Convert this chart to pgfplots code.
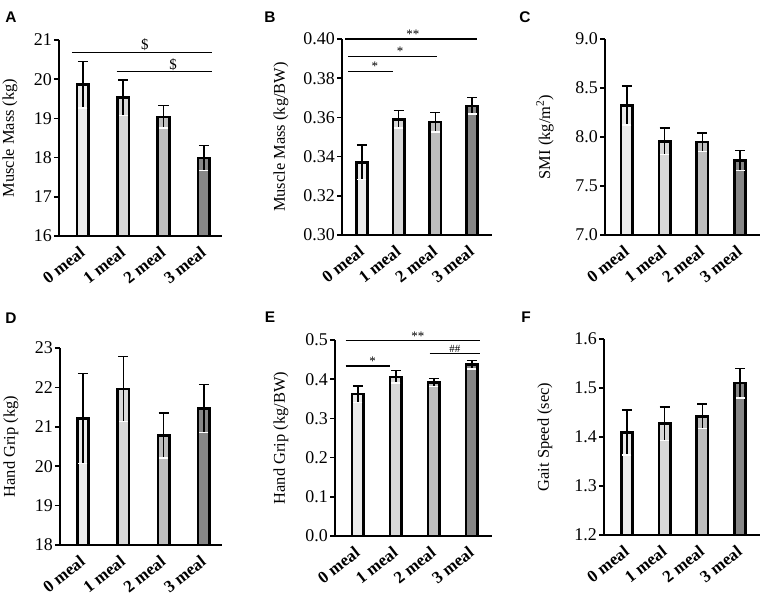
\documentclass[border=0pt]{standalone}
\usepackage{fontspec}
\setmainfont{Liberation Serif}
\newfontfamily\sansf{Liberation Sans}
\usepackage{pgfplots}
\pgfplotsset{compat=1.18}
\definecolor{c0}{HTML}{EBEBEB}
\definecolor{c1}{HTML}{D8D8D8}
\definecolor{c2}{HTML}{BEBEBE}
\definecolor{c3}{HTML}{868686}
\pgfplotsset{
  panel/.style={scale only axis, anchor=south west,
    axis x line=bottom, axis y line=left,
    axis line style={-, line width=2.2bp, black},
    xtick={0,1,2,3}, xticklabels={0 meal,1 meal,2 meal,3 meal},
    xtick style={draw=none},
    ytick style={line width=1.6bp, black},
    tick align=outside, major tick length=5bp,
    xticklabel style={font=\bfseries\fontsize{17}{17}\selectfont, rotate=38, anchor=north east, inner sep=1bp, xshift=-5bp, yshift=0bp},
    yticklabel style={font=\fontsize{18}{18}\selectfont, inner sep=2bp},
    /pgf/number format/assume math mode=true,
    clip=false,
    ylabel style={font=\fontsize{16.5}{16.5}\selectfont, anchor=center}},
  ylab/.style={ylabel style={at={([xshift=-#1]axis description cs:0,0.5)}}},
  bb/.style={ybar, bar width=11.5bp, bar shift=0pt, draw=black, line width=2.6bp, fill=#1,
    error bars/.cd, y dir=plus, y explicit,
    error bar style={line width=1.5bp, black},
    error mark options={line width=1.5bp, black, mark size=5bp, rotate=90}},
  lo/.style={draw=none, mark=none, forget plot,
    error bars/.cd, y dir=minus, y explicit,
    error bar style={line width=1.5bp, draw=black},
    error mark options={line width=1.5bp, draw=white, mark size=4.5bp, rotate=90}},
}
\tikzset{sig/.style={line width=1.3bp, black}}
\newcommand{\st}{\fontsize{13}{13}\selectfont}
\begin{document}
\begin{tikzpicture}
\path[use as bounding box] (0,0) rectangle (765bp,-603bp);
\tikzset{plab/.style={font=\sansf\bfseries\fontsize{15.5}{15.5}\selectfont}}
\node[plab] at (11bp,-17bp) {A};
\node[plab] at (270bp,-17bp) {B};
\node[plab] at (525bp,-17bp) {C};
\node[plab] at (11bp,-318bp) {D};
\node[plab] at (270bp,-317bp) {E};
\node[plab] at (526bp,-317bp) {F};

% ---------- A ----------
\begin{axis}[panel, at={(59bp,-236bp)}, width=163bp, height=196bp,
  xmin=-0.59, xmax=3.45, ymin=16, ymax=21, ytick={16,17,18,19,20,21},
  ylabel={Muscle Mass (kg)}, ylab=49bp]
\addplot[bb=c0] coordinates {(0,19.86) +- (0,0.59)};
\addplot[bb=c1] coordinates {(1,19.53) +- (0,0.45)};
\addplot[bb=c2] coordinates {(2,19.04) +- (0,0.29)};
\addplot[bb=c3] coordinates {(3,17.99) +- (0,0.32)};
\addplot[lo] coordinates {(0,19.86) +- (0,0.59) (1,19.53) +- (0,0.45) (2,19.04) +- (0,0.29) (3,17.99) +- (0,0.32)};
\draw[sig] (-0.27,20.69) -- (3.21,20.69);
\node[anchor=south, inner sep=1bp, font=\fontsize{15}{15}\selectfont] at (1.54,20.69) {\$};
\draw[sig] (0.84,20.19) -- (3.21,20.19);
\node[anchor=south, inner sep=1bp, font=\fontsize{15}{15}\selectfont] at (2.24,20.19) {\$};
\end{axis}

% ---------- B ----------
\begin{axis}[panel, at={(342bp,-235bp)}, width=150bp, height=196bp,
  xmin=-0.545, xmax=3.545, ymin=0.30, ymax=0.40, ytick={0.30,0.32,0.34,0.36,0.38,0.40},
  yticklabel style={/pgf/number format/.cd, fixed, fixed zerofill, precision=2},
  ylabel={Muscle Mass (kg/BW)}, ylab=61bp]
\addplot[bb=c0] coordinates {(0,0.337) +- (0,0.0088)};
\addplot[bb=c1] coordinates {(1,0.3590) +- (0,0.0045)};
\addplot[bb=c2] coordinates {(2,0.3576) +- (0,0.0050)};
\addplot[bb=c3] coordinates {(3,0.3659) +- (0,0.0042)};
\addplot[lo] coordinates {(0,0.337) +- (0,0.0088) (1,0.3590) +- (0,0.0045) (2,0.3576) +- (0,0.0050) (3,0.3659) +- (0,0.0042)};
\draw[sig] (-0.46,0.400) -- (3.13,0.400);
\node[anchor=south, inner sep=0.5bp, font=\st] at (1.39,0.400) {**};
\draw[sig] (-0.38,0.3911) -- (2.04,0.3911);
\node[anchor=south, inner sep=0.5bp, font=\st] at (1.04,0.3911) {*};
\draw[sig] (-0.38,0.3835) -- (0.85,0.3835);
\node[anchor=south, inner sep=0.5bp, font=\st] at (0.35,0.3835) {*};
\end{axis}

% ---------- C ----------
\begin{axis}[panel, at={(605bp,-235bp)}, width=155bp, height=196bp,
  xmin=-0.58, xmax=3.53, ymin=7, ymax=9, ytick={7,7.5,8,8.5,9},
  yticklabel style={/pgf/number format/.cd, fixed, fixed zerofill, precision=1},
  ylabel={SMI (kg/m\textsuperscript{2})}, ylab=60bp]
\addplot[bb=c0] coordinates {(0,8.32) +- (0,0.20)};
\addplot[bb=c1] coordinates {(1,7.955) +- (0,0.135)};
\addplot[bb=c2] coordinates {(2,7.947) +- (0,0.095)};
\addplot[bb=c3] coordinates {(3,7.76) +- (0,0.10)};
\addplot[lo] coordinates {(0,8.32) +- (0,0.20) (1,7.955) +- (0,0.135) (2,7.947) +- (0,0.095) (3,7.76) +- (0,0.10)};
\end{axis}

% ---------- D ----------
\begin{axis}[panel, at={(60bp,-545bp)}, width=162bp, height=197bp,
  xmin=-0.57, xmax=3.45, ymin=18, ymax=23, ytick={18,19,20,21,22,23},
  ylabel={Hand Grip (kg)}, ylab=49bp]
\addplot[bb=c0] coordinates {(0,21.21) +- (0,1.14)};
\addplot[bb=c1] coordinates {(1,21.96) +- (0,0.83)};
\addplot[bb=c2] coordinates {(2,20.78) +- (0,0.57)};
\addplot[bb=c3] coordinates {(3,21.46) +- (0,0.61)};
\addplot[lo] coordinates {(0,21.21) +- (0,1.14) (1,21.96) +- (0,0.83) (2,20.78) +- (0,0.57) (3,21.46) +- (0,0.61)};
\end{axis}

% ---------- E ----------
\begin{axis}[panel, at={(335bp,-536bp)}, width=157bp, height=196bp,
  xmin=-0.6, xmax=3.53, ymin=0, ymax=0.5, ytick={0,0.1,0.2,0.3,0.4,0.5},
  yticklabel style={/pgf/number format/.cd, fixed, fixed zerofill, precision=1},
  ylabel={Hand Grip (kg/BW)}, ylab=54bp]
\addplot[bb=c0] coordinates {(0,0.362) +- (0,0.021)};
\addplot[bb=c1] coordinates {(1,0.406) +- (0,0.016)};
\addplot[bb=c2] coordinates {(2,0.392) +- (0,0.010)};
\addplot[bb=c3] coordinates {(3,0.437) +- (0,0.011)};
\addplot[lo] coordinates {(0,0.362) +- (0,0.021) (1,0.406) +- (0,0.016) (2,0.392) +- (0,0.010) (3,0.437) +- (0,0.011)};
\draw[sig] (-0.32,0.498) -- (3.21,0.498);
\node[anchor=south, inner sep=0.5bp, font=\st] at (1.58,0.498) {**};
\draw[sig] (-0.32,0.434) -- (0.84,0.434);
\node[anchor=south, inner sep=0.5bp, font=\st] at (0.39,0.434) {*};
\draw[sig] (1.89,0.466) -- (3.21,0.466);
\node[anchor=south, inner sep=0.5bp, font=\fontsize{11}{11}\selectfont] at (2.55,0.466) {\#\#};
\end{axis}

% ---------- F ----------
\begin{axis}[panel, at={(604bp,-535bp)}, width=156bp, height=196bp,
  xmin=-0.61, xmax=3.53, ymin=1.2, ymax=1.6, ytick={1.2,1.3,1.4,1.5,1.6},
  yticklabel style={/pgf/number format/.cd, fixed, fixed zerofill, precision=1},
  ylabel={Gait Speed (sec)}, ylab=59bp]
\addplot[bb=c0] coordinates {(0,1.409) +- (0,0.046)};
\addplot[bb=c1] coordinates {(1,1.427) +- (0,0.034)};
\addplot[bb=c2] coordinates {(2,1.442) +- (0,0.025)};
\addplot[bb=c3] coordinates {(3,1.510) +- (0,0.030)};
\addplot[lo] coordinates {(0,1.409) +- (0,0.046) (1,1.427) +- (0,0.034) (2,1.442) +- (0,0.025) (3,1.510) +- (0,0.030)};
\end{axis}
\end{tikzpicture}
\end{document}
